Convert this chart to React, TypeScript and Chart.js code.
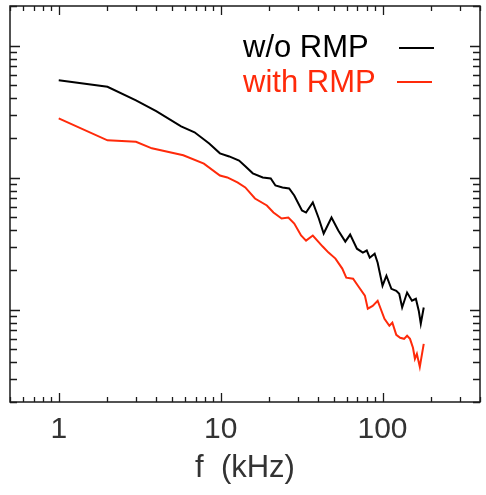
import React, { useEffect, useRef } from "react";
import { Chart, registerables } from "chart.js";

Chart.register(...registerables);

// ---- data ----
const freqNoRmp = [1, 2, 3, 4, 5.7, 6.9, 8.5, 9.9, 11.3, 13.0, 14.2, 15.8, 18.2, 20.4, 21.8, 24.1, 26.5, 28.5, 31.8, 33.7, 37.1, 40.4, 43.3, 48.4, 53.3, 58.9, 63.1, 69.5, 75.6, 79.9, 83.4, 89.4, 93.3, 100, 105.7, 113.4, 121.6, 126.8, 132.2, 141.8, 152, 160.7, 167.5, 172.3, 179.7];
const valNoRmp = [54.8, 48.9, 38.6, 31.9, 24.5, 22.1, 18.2, 15.3, 14.5, 13.5, 12.2, 10.8, 10.05, 9.88, 8.74, 8.44, 8.29, 7.34, 5.65, 5.45, 6.49, 4.91, 3.78, 5.0, 3.98, 3.28, 3.71, 2.9, 2.71, 2.81, 2.48, 2.66, 2.27, 1.52, 1.81, 1.44, 1.39, 1.32, 1.04, 1.35, 1.17, 1.21, 0.98, 0.783, 1.04];

const freqRmp = [1, 2, 3, 3.76, 5.88, 7.88, 9.9, 11.0, 12.7, 14.2, 16.3, 19.3, 21.2, 23.8, 26.2, 28.5, 31.4, 33.7, 37.1, 42.7, 46.4, 51.2, 56.4, 59.7, 65.8, 70.5, 77.8, 81.1, 86.9, 93.3, 102.8, 110.2, 115.0, 121.6, 128.5, 135.9, 141.8, 147.8, 154.2, 158.5, 163.0, 169.9, 179.7];
const valRmp = [28.2, 19.2, 18.7, 16.7, 14.8, 12.8, 10.4, 10.05, 9.21, 8.44, 6.96, 6.16, 5.45, 4.91, 5.0, 4.5, 3.65, 3.34, 3.65, 3.01, 2.71, 2.44, 2.05, 1.75, 1.72, 1.52, 1.28, 1.02, 1.07, 1.17, 0.854, 0.756, 0.797, 0.646, 0.613, 0.602, 0.635, 0.602, 0.515, 0.425, 0.463, 0.369, 0.552];

const seriesNames = ["w/o RMP", "with RMP"];
const xLabelValues = [1, 10, 100];
const xTitle = "f  (kHz)";
const xMin = 0.5;
const xMax = 400;
const yMin = 0.2;
const yMax = 200;

const BLACK = "#000000";
const RED = "#ff2a0a";
const AXIS_TEXT = "#333333";
const FONT = "'Liberation Sans', Arial, sans-serif";

function logTicks(min: number, max: number) {
  const out: { v: number; major: boolean }[] = [];
  for (let e = Math.floor(Math.log10(min)); e <= Math.ceil(Math.log10(max)); e++) {
    for (let m = 1; m <= 9; m++) {
      const v = m * Math.pow(10, e);
      if (v >= min * 0.999 && v <= max * 1.001) out.push({ v, major: m === 1 });
    }
  }
  return out;
}

const framePlugin = {
  id: "frameTicks",
  afterDatasetsDraw(chart: any) {
    const { ctx, chartArea: a, scales } = chart;
    const xs = scales.x;
    const ys = scales.y;
    ctx.save();
    ctx.strokeStyle = "#1a1a1a";
    ctx.lineWidth = 1.5;
    ctx.strokeRect(a.left, a.top, a.right - a.left, a.bottom - a.top);
    ctx.lineWidth = 1.3;
    ctx.beginPath();
    for (const t of logTicks(xMin, xMax)) {
      const px = Math.round(xs.getPixelForValue(t.v)) + 0.5;
      const len = t.major ? 9 : 5;
      ctx.moveTo(px, a.bottom);
      ctx.lineTo(px, a.bottom - len);
      ctx.moveTo(px, a.top);
      ctx.lineTo(px, a.top + len);
    }
    for (const t of logTicks(yMin, yMax)) {
      const py = Math.round(ys.getPixelForValue(t.v)) + 0.5;
      const len = t.major ? 10 : 7;
      ctx.moveTo(a.left, py);
      ctx.lineTo(a.left + len, py);
      ctx.moveTo(a.right, py);
      ctx.lineTo(a.right - len, py);
    }
    ctx.stroke();

    // legend (text followed by a line sample)
    ctx.font = `31px ${FONT}`;
    ctx.textBaseline = "alphabetic";
    ctx.textAlign = "left";
    ctx.fillStyle = BLACK;
    ctx.fillText(seriesNames[0], 243, 57);
    ctx.fillStyle = RED;
    ctx.fillText(seriesNames[1], 243, 92);
    ctx.lineWidth = 2;
    ctx.strokeStyle = BLACK;
    ctx.beginPath();
    ctx.moveTo(399, 48);
    ctx.lineTo(434, 48);
    ctx.stroke();
    ctx.strokeStyle = RED;
    ctx.beginPath();
    ctx.moveTo(397, 82);
    ctx.lineTo(432, 82);
    ctx.stroke();
    ctx.restore();
  },
};

export default function App() {
  const ref = useRef<HTMLCanvasElement>(null);
  useEffect(() => {
    if (!ref.current) return;
    const chart = new Chart(ref.current, {
      type: "line",
      data: {
        datasets: [
          {
            label: seriesNames[0],
            data: freqNoRmp.map((f, i) => ({ x: f, y: valNoRmp[i] })),
            borderColor: BLACK,
            borderWidth: 2,
            pointRadius: 0,
            tension: 0,
          },
          {
            label: seriesNames[1],
            data: freqRmp.map((f, i) => ({ x: f, y: valRmp[i] })),
            borderColor: RED,
            borderWidth: 2,
            pointRadius: 0,
            tension: 0,
          },
        ],
      },
      options: {
        animation: false,
        responsive: false,
        devicePixelRatio: 1,
        layout: { padding: { left: 8, top: 6, right: 2, bottom: 0 } },
        plugins: { legend: { display: false }, tooltip: { enabled: false } },
        scales: {
          x: {
            type: "logarithmic",
            min: xMin,
            max: xMax,
            grid: { display: false, drawTicks: false },
            border: { display: false },
            ticks: {
              autoSkip: false,
              maxRotation: 0,
              padding: 10,
              color: AXIS_TEXT,
              font: { family: FONT, size: 30 },
              callback: (v: any) => {
                const n = Number(v);
                return xLabelValues.some((l) => Math.abs(l - n) < 1e-9) ? String(n) : "";
              },
            },
            title: {
              display: true,
              text: xTitle,
              color: AXIS_TEXT,
              font: { family: FONT, size: 31 },
              padding: { top: 0, bottom: 8 },
            },
            afterFit: (s: any) => {
              s.height = 93;
            },
          },
          y: {
            type: "logarithmic",
            min: yMin,
            max: yMax,
            grid: { display: false, drawTicks: false },
            border: { display: false },
            ticks: { display: false },
            afterFit: (s: any) => {
              s.width = 0;
            },
          },
        },
      },
      plugins: [framePlugin],
    });
    return () => chart.destroy();
  }, []);
  return (
    <div
      style={{
        position: "absolute",
        left: 0,
        top: 0,
        width: 486,
        height: 495,
        overflow: "hidden",
        background: "#fff",
      }}
    >
      <canvas ref={ref} width={490} height={495} style={{ display: "block" }} />
    </div>
  );
}
